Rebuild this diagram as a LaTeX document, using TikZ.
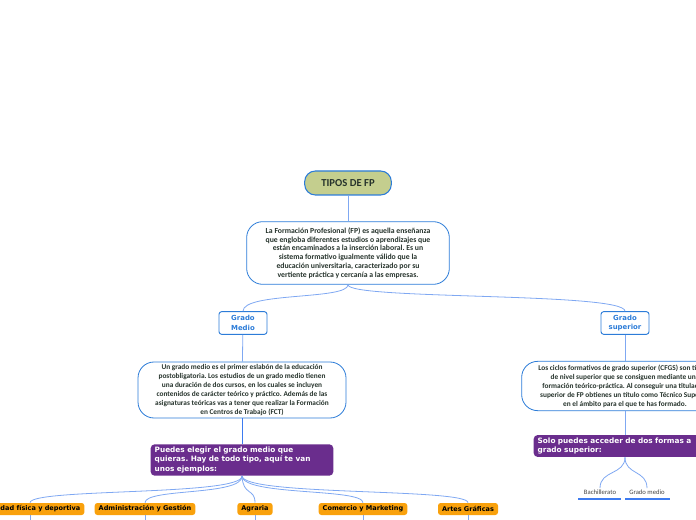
\documentclass[tikz,border=0pt]{standalone}
\usepackage{fontspec}
\setmainfont{Carlito}
\newfontfamily\verd{DejaVu Sans}
\usetikzlibrary{positioning}
\frenchspacing

\definecolor{lineblue}{HTML}{7FA8F2}
\definecolor{linkblue}{HTML}{3D7BF0}
\definecolor{boxblue}{HTML}{2C7CD8}
\definecolor{olivefill}{HTML}{C4CE8E}
\definecolor{darktext}{HTML}{26332C}
\definecolor{purp}{HTML}{6A2D8D}
\definecolor{orng}{HTML}{F9A10C}
\definecolor{leafgray}{HTML}{444444}

\tikzset{
  topic/.style={draw=boxblue, fill=olivefill, rounded corners=8pt, line width=0.8pt,
    minimum width=65pt, minimum height=18pt, text=darktext,
    font=\bfseries\fontsize{8}{9}\selectfont},
  info/.style={draw=boxblue, fill=white, rounded corners=12pt, line width=0.6pt,
    align=center, text=darktext, inner sep=0pt},
  grado/.style={draw=boxblue, fill=white, rounded corners=2pt, line width=0.7pt,
    minimum width=36pt, minimum height=17pt, align=center, text=boxblue, inner sep=1pt,
    font=\verd\bfseries\fontsize{5.2}{7}\selectfont},
  ejemplos/.style={fill=purp, rounded corners=3pt, text=white, align=left,
    text width=131pt, inner xsep=3pt, inner ysep=2pt,
    font=\verd\bfseries\fontsize{5.5}{7.1}\selectfont},
  rama/.style={fill=orng, rounded corners=2pt, text=black, inner xsep=3pt,
    minimum height=9pt, inner ysep=0pt, font=\verd\bfseries\fontsize{4.9}{6}\selectfont},
  hoja/.style={text=leafgray, font=\fontsize{5}{6}\selectfont, inner sep=1pt},
  subrayado/.style={draw=linkblue, line width=1.1pt},
  link/.style={draw=lineblue, line width=0.6pt},
}

\begin{document}
\begin{tikzpicture}[x=0.75pt,y=-0.75pt]
  \useasboundingbox (0,0) rectangle (696,520);
  \clip (0,0) rectangle (696,520);

  \node[topic] (tipos) at (348,183) {TIPOS DE FP};
  \node[info, minimum width=152pt, minimum height=47pt,
        font=\bfseries\fontsize{5.8}{6.6}\selectfont] (formacion) at (348,253)
    {La Formación Profesional (FP) es aquella enseñanza\\
     que engloba diferentes estudios o aprendizajes que\\
     están encaminados a la inserción laboral. Es un\\
     sistema formativo igualmente válido que la\\
     educación universitaria, caracterizado por su\\
     vertiente práctica y cercanía a las empresas.};

  \node[grado] (medio) at (243,323) {Grado\\Medio};
  \node[grado] (superior) at (625,323) {Grado\\superior};

  \node[info, minimum width=156pt, minimum height=42pt,
        font=\bfseries\fontsize{5.5}{6.8}\selectfont] (medioinfo) at (242,390)
    {Un grado medio es el primer eslabón de la educación\\
     postobligatoria. Los estudios de un grado medio tienen\\
     una duración de dos cursos, en los cuales se incluyen\\
     contenidos de carácter teórico y práctico. Además de las\\
     asignaturas teóricas vas a tener que realizar la Formación\\
     en Centros de Trabajo (FCT)};
  \node[info, minimum width=155pt, minimum height=37pt,
        font=\bfseries\fontsize{5.5}{6.8}\selectfont] (superiorinfo) at (625,386)
    {Los ciclos formativos de grado superior (CFGS) son títulos\\
     de nivel superior que se consiguen mediante una\\
     formación teórico-práctica. Al conseguir una titulación\\
     superior de FP obtienes un título como Técnico Superior\\
     en el ámbito para el que te has formado.};

  \node[ejemplos] (medioej) at (242,460)
    {Puedes elegir el grado medio que\\quieras. Hay de todo tipo, aquí te van\\unos ejemplos:};
  \node[ejemplos] (superiorej) at (625,446)
    {Solo puedes acceder de dos formas a\\grado superior:};

  \node[rama] (actividad) at (30,509) {Actividad física y deportiva};
  \node[rama] (admin) at (145,509) {Administración y Gestión};
  \node[rama] (agraria) at (255,509) {Agraria};
  \node[rama] (comercio) at (363,509) {Comercio y Marketing};
  \node[rama] (artes) at (468,509) {Artes Gráficas};

  \node[hoja] (bach) at (600,492) {Bachillerato};
  \node[hoja] (gmedio) at (647,492) {Grado medio};
  \draw[subrayado] (578,499) -- (621,499);
  \draw[subrayado] (625,499) -- (670,499);

  % troncos
  \draw[link] (tipos) -- (formacion);
  \draw[link] (formacion.south) .. controls (348,300) and (243,292) .. (medio.north);
  \draw[link] (formacion.south) .. controls (348,300) and (625,292) .. (superior.north);
  \draw[link] (medio) -- (medioinfo);
  \draw[link] (superior) -- (superiorinfo);
  \draw[link, draw=linkblue] (medioinfo) -- (medioej);
  \draw[link] (superiorinfo) -- (superiorej);

  % ramas del grado medio
  \foreach \r in {actividad,admin,agraria,comercio,artes}
    \draw[link] (medioej.south) .. controls (243,496) and (\r.north |- 0,488) .. (\r.north);
  \foreach \r/\x in {actividad/30,admin/145,agraria/255,comercio/363,artes/468} {
    \coordinate (fin\r) at (\x,525);
    \draw[link] (\r) -- (fin\r);
  }

  % acceso a grado superior
  \draw[link] (superiorej.south) .. controls (625,475) and (600,470) .. (bach.north);
  \draw[link] (superiorej.south) .. controls (625,475) and (647,470) .. (gmedio.north);
\end{tikzpicture}
\end{document}
